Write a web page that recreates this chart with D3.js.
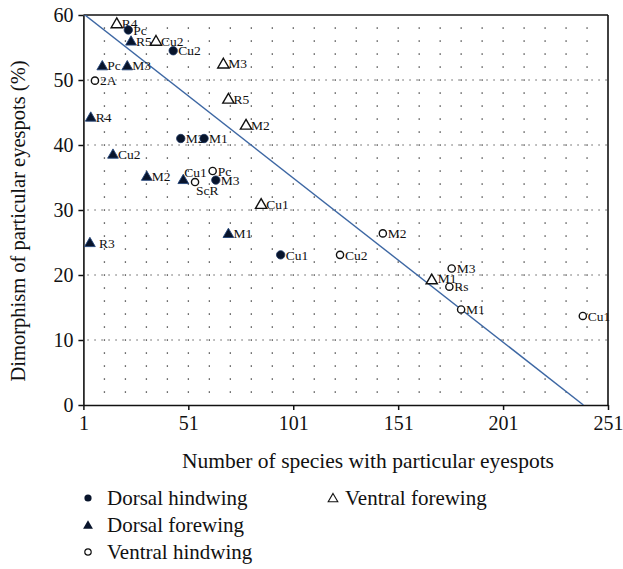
<!DOCTYPE html>
<html><head><meta charset="utf-8">
<script src="https://cdn.jsdelivr.net/npm/d3@7"></script>
<style>
body{margin:0;background:#fff}
svg{display:block}
text{font-family:"Liberation Serif","DejaVu Serif",serif;fill:#111}
</style>
</head><body>
<svg id="chart" width="623" height="569"></svg>
<script>
// ---- data ----
const xTicks = [1, 51, 101, 151, 201, 251];
const yTicks = [0, 10, 20, 30, 40, 50, 60];
const xGridDots = [11,21,31,41,51,61,71,81,91,101,111,121,131,141,151,161,171,181,191,201,211,221,231,241];
const yGridDots = [2,4,6,8,12,14,16,18,22,24,26,28,32,34,36,38,42,44,46,48,52,54,56,58];
const yGridLines = [10, 20, 30, 40, 50];

const dorsalHindwingLabels = ["Pc","Cu2","M2","M1","M3","Cu1"];
const dorsalHindwingX = [22.4, 43.8, 47.4, 58.5, 64.1, 95.0];
const dorsalHindwingY = [57.7, 54.5, 41.0, 41.0, 34.6, 23.1];

const dorsalForewingLabels = ["R4","R5","Pc","M3","Cu2","M2","Cu1","M1","R3"];
const dorsalForewingX = [4.5, 23.7, 10.0, 21.9, 15.1, 31.2, 48.6, 70.1, 4.1];
const dorsalForewingY = [44.3, 56.0, 52.2, 52.2, 38.6, 35.2, 34.7, 26.4, 25.0];

const ventralHindwingLabels = ["2A","Pc","ScR","M2","Cu2","M3","Rs","M1","Cu1"];
const ventralHindwingX = [6.5, 62.6, 54.2, 143.7, 123.3, 176.5, 175.4, 181.0, 239.0];
const ventralHindwingY = [49.9, 36.0, 34.3, 26.4, 23.1, 21.0, 18.2, 14.7, 13.7];

const ventralForewingLabels = ["R4","Cu2","M3","R5","M2","Cu1","M1"];
const ventralForewingX = [16.9, 35.6, 67.7, 70.1, 78.5, 85.7, 167.0];
const ventralForewingY = [58.7, 56.0, 52.5, 47.1, 43.1, 30.9, 19.3];

const regressionIntercept = 60.44;
const regressionSlope = -0.2526;

const legendNames = ["Dorsal hindwing","Dorsal forewing","Ventral hindwing","Ventral forewing"];
const xTitle = "Number of species with particular eyespots";
const yTitle = "Dimorphism of particular eyespots (%)";

// ---- layout ----
const M = {left: 83.4, right: 608, top: 15, bottom: 405};
const svg = d3.select("#chart");
const x = d3.scaleLinear().domain([1, 251]).range([M.left, M.right]);
const y = d3.scaleLinear().domain([0, 60]).range([M.bottom, M.top]);

svg.append("defs").append("clipPath").attr("id","plot")
  .append("rect").attr("x",M.left).attr("y",M.top)
  .attr("width",M.right-M.left).attr("height",M.bottom-M.top);

// grid dots
const gdots = svg.append("g");
xGridDots.forEach(gx => {
  yGridDots.concat(yGridLines).forEach(gy => {
    gdots.append("rect").attr("x", x(gx)-0.6).attr("y", y(gy)-0.6)
      .attr("width",1.3).attr("height",1.3).attr("fill","#333");
  });
});
svg.append("g").selectAll("line").data(yGridLines).join("line")
  .attr("x1", M.left+4).attr("x2", M.right)
  .attr("y1", d=>y(d)).attr("y2", d=>y(d))
  .attr("stroke","#444").attr("stroke-width",1.2)
  .attr("stroke-dasharray","1.3 5.7");

// axes
const xAxis = svg.append("g").attr("transform",`translate(0,${M.bottom})`)
  .call(d3.axisBottom(x).tickValues(xTicks).tickSize(5).tickSizeOuter(0));
const yAxis = svg.append("g").attr("transform",`translate(${M.left},0)`)
  .call(d3.axisLeft(y).tickValues(yTicks).tickSize(5).tickSizeOuter(0));
[xAxis, yAxis].forEach(a => {
  a.select(".domain").attr("stroke","#111").attr("stroke-width",1.6);
  a.selectAll(".tick line").attr("stroke","#111").attr("stroke-width",1.5);
  a.selectAll(".tick text").attr("font-size",20).attr("font-family",'"Liberation Serif",serif').attr("fill","#111");
});
xAxis.selectAll(".tick text").attr("dy","0.85em");
yAxis.selectAll(".tick text").attr("x",-10);

// frame top & right
svg.append("line").attr("x1",M.left).attr("x2",M.right).attr("y1",M.top).attr("y2",M.top)
  .attr("stroke","#111").attr("stroke-width",1.6);
svg.append("line").attr("x1",M.right).attr("x2",M.right).attr("y1",M.top).attr("y2",M.bottom)
  .attr("stroke","#111").attr("stroke-width",1.6);

// regression line
const x0 = 1, x1 = -regressionIntercept/regressionSlope;
svg.append("line").attr("clip-path","url(#plot)")
  .attr("x1",x(x0)).attr("y1",y(regressionIntercept+regressionSlope*x0))
  .attr("x2",x(x1)).attr("y2",y(0))
  .attr("stroke","#3d67a3").attr("stroke-width",1.4);

// markers
const triUp = d3.symbol().type(d3.symbolTriangle).size(50);
const triOpen = d3.symbol().type(d3.symbolTriangle).size(55);
const styles = {
  dh: g => g.append("circle").attr("r",4.2).attr("fill","#08142b").attr("stroke","#1a3360").attr("stroke-width",0.8),
  df: g => g.append("path").attr("d",triUp).attr("transform","translate(0,1)").attr("fill","#08142b").attr("stroke","#24457a").attr("stroke-width",0.9),
  vh: g => g.append("circle").attr("r",3.6).attr("fill","#fff").attr("stroke","#111").attr("stroke-width",1.4),
  vf: g => g.append("path").attr("d",triOpen).attr("transform","translate(0,1)").attr("fill","#fff").attr("stroke","#111").attr("stroke-width",1.4)
};
// label offsets (dx, dy) relative to the marker
const labelOffset = {
  "df-Cu1": [1, -7],
  "vh-ScR": [1, 8],
  "df-R3": [9, 1],
  "vf-M1": [6, -1],
  "df-R5": [5, 0]
};
function series(key, labels, xs, ys){
  const g = svg.append("g");
  labels.forEach((lab, i) => {
    const p = g.append("g").attr("transform",`translate(${x(xs[i])},${y(ys[i])})`);
    styles[key](p);
    const off = labelOffset[key+"-"+lab] || [5, 0];
    p.append("text").attr("x", off[0]).attr("y", off[1]).attr("dy","0.35em")
      .attr("font-size",13.5).text(lab);
  });
}
series("vf", ventralForewingLabels, ventralForewingX, ventralForewingY);
series("vh", ventralHindwingLabels, ventralHindwingX, ventralHindwingY);
series("df", dorsalForewingLabels, dorsalForewingX, dorsalForewingY);
series("dh", dorsalHindwingLabels, dorsalHindwingX, dorsalHindwingY);

// titles
svg.append("text").attr("x",368).attr("y",468).attr("text-anchor","middle")
  .attr("font-size",21.5).text(xTitle);
svg.append("text").attr("transform",`translate(25,221) rotate(-90)`)
  .attr("text-anchor","middle").attr("font-size",20.5).text(yTitle);

// legend
const legPos = [[88,498],[88,525],[88,552],[333,498]];
const legKeys = ["dh","df","vh","vf"];
const legMarks = {
  dh: g => g.append("circle").attr("r",3.6).attr("fill","#08142b"),
  df: g => g.append("path").attr("d",d3.symbol().type(d3.symbolTriangle).size(42)).attr("fill","#08142b").attr("transform","translate(0,1)"),
  vh: g => g.append("circle").attr("r",3.2).attr("fill","#fff").attr("stroke","#111").attr("stroke-width",1.2),
  vf: g => g.append("path").attr("d",d3.symbol().type(d3.symbolTriangle).size(40)).attr("fill","#fff").attr("stroke","#111").attr("stroke-width",1.1).attr("transform","translate(0,1)")
};
legendNames.forEach((n,i) => {
  const g = svg.append("g").attr("transform",`translate(${legPos[i][0]},${legPos[i][1]})`);
  legMarks[legKeys[i]](g);
  g.append("text").attr("x", legKeys[i]==="vf" ? 12 : 19).attr("dy","0.35em").attr("font-size",21).text(n);
});
</script>
</body></html>
